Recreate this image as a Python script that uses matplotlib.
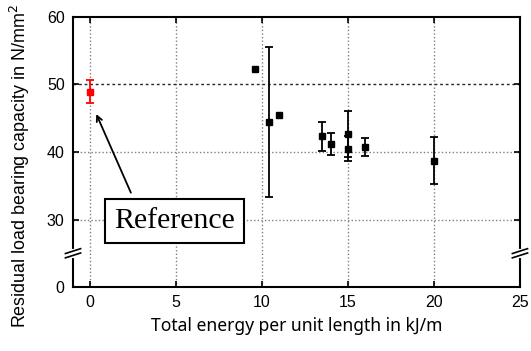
"""
Residual load bearing capacity vs. total energy per unit length (broken y axis).
"""

import matplotlib

matplotlib.use("Agg")
import matplotlib.pyplot as plt
import numpy as np

plt.rcParams["font.family"] = "Liberation Sans"

# reference specimen (red)
ref_energy = [0.0]
ref_capacity = [48.9]
ref_err = [1.7]

# welded specimens (black); 0 = no error bar drawn
energy = [9.6, 10.4, 11.0, 13.5, 14.0, 15.0, 15.0, 16.0, 20.0]
capacity = [52.3, 44.5, 45.5, 42.3, 41.2, 42.6, 40.5, 40.7, 38.7]
cap_err = [0.0, 11.1, 0.0, 2.1, 1.6, 3.4, 1.8, 1.3, 3.5]

x_ticks = [0, 5, 10, 15, 20, 25]
# the "0" tick sits where 20 would be, the axis is broken between 0 and 30
y_ticks = [20, 30, 40, 50, 60]
y_tick_labels = ["0", "30", "40", "50", "60"]
y_break = 25

fig = plt.figure(figsize=(5.31, 3.51), dpi=100)
ax = fig.add_axes([0.1375, 0.1823, 0.8417, 0.7693])

grid_kw = dict(color="0.5", linestyle=(0, (1, 1.6)), linewidth=1.0, zorder=0)
for x in x_ticks[:-1]:
    ax.axvline(x, **grid_kw)
for y in y_ticks[1:-1]:
    if y == 50:
        # this one is drawn darker in the original
        ax.axhline(y, color="0.15", linestyle=(0, (2, 2)), linewidth=1.0, zorder=0)
    else:
        ax.axhline(y, **grid_kw)

energy = np.array(energy)
capacity = np.array(capacity)
cap_err = np.array(cap_err)
has_err = cap_err > 0

ax.errorbar(
    energy[has_err],
    capacity[has_err],
    yerr=cap_err[has_err],
    fmt="none",
    ecolor="black",
    elinewidth=1.3,
    capsize=3,
    capthick=1.3,
    zorder=2,
)
ax.plot(energy, capacity, "s", color="black", markersize=5, zorder=3)

ax.errorbar(
    ref_energy,
    ref_capacity,
    yerr=ref_err,
    fmt="s",
    color="red",
    ecolor="red",
    markersize=5,
    elinewidth=1.3,
    capsize=3,
    capthick=1.3,
    zorder=3,
)

ax.set_xlim(-1, 25)
ax.set_ylim(20, 60)
ax.set_xticks(x_ticks)
ax.set_yticks(y_ticks)
ax.set_yticklabels(y_tick_labels)
ax.tick_params(
    axis="both",
    direction="in",
    length=4,
    width=1.2,
    labelsize=11.5,
    top=True,
    right=True,
    pad=6,
)
for spine in ax.spines.values():
    spine.set_linewidth(1.5)

# axis break marks on both sides
yb = (y_break - 20) / 40
for xs in (0.0, 1.0):
    ax.plot([xs, xs], [yb - 0.009, yb + 0.009], color="white", linewidth=3,
            transform=ax.transAxes, clip_on=False, zorder=5)
    for dy in (-0.008, 0.008):
        ax.plot([xs - 0.017, xs + 0.017], [yb + dy - 0.009, yb + dy + 0.009],
                color="black", linewidth=1.2, transform=ax.transAxes,
                clip_on=False, zorder=6)

ax.annotate(
    "",
    xy=(0.29, 46.0),
    xytext=(2.43, 33.6),
    arrowprops=dict(arrowstyle="->", color="black", lw=1.3),
    zorder=4,
)
ax.text(
    4.92,
    29.8,
    "Reference",
    family="Liberation Serif",
    fontsize=21.5,
    ha="center",
    va="center",
    bbox=dict(boxstyle="square,pad=0.3", facecolor="white", edgecolor="black",
              linewidth=1.5),
    zorder=6,
)

ax.set_xlabel("Total energy per unit length in kJ/m", family="Noto Sans",
              fontsize=12.6, labelpad=5)
fig.text(0.038, 0.527, "Residual load bearing capacity in N/mm$^2$",
         rotation=90, ha="center", va="center", fontsize=12.9)

fig.savefig("out.png", dpi=100)
